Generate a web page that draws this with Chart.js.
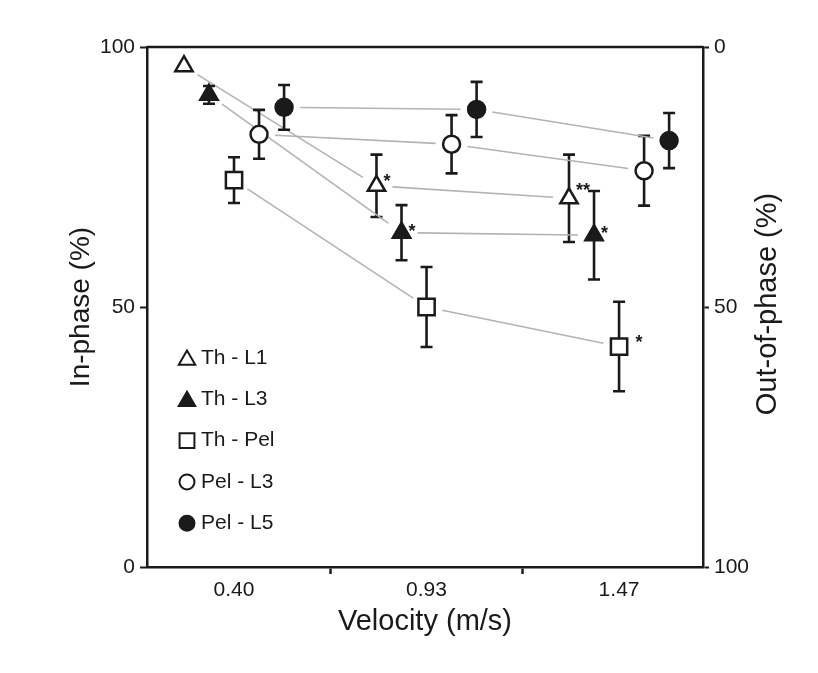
<!DOCTYPE html>
<html>
<head>
<meta charset="utf-8">
<script src="https://cdn.jsdelivr.net/npm/chart.js@4.4.1/dist/chart.umd.min.js"></script>
<style>
  html, body { margin: 0; padding: 0; background: #fff; }
</style>
</head>
<body>
<canvas id="chart" width="818" height="673"></canvas>
<script>
// values (in-phase %, mean and SD)
const velocities = ['0.40', '0.93', '1.47'];
const seriesNames = ['Th - L1', 'Th - L3', 'Th - Pel', 'Pel - L3', 'Pel - L5'];
const thL1 = [96.3, 73.3, 70.9];
const thL1Sd = [0, 6.0, 8.4];
const thL3 = [90.8, 64.3, 63.8];
const thL3Sd = [1.7, 5.3, 8.5];
const thPel = [74.4, 50.0, 42.4];
const thPelSd = [4.4, 7.7, 8.6];
const pelL3 = [83.2, 81.3, 76.2];
const pelL3Sd = [4.7, 5.6, 6.7];
const pelL5 = [88.4, 88.0, 82.0];
const pelL5Sd = [4.3, 5.3, 5.3];
// significance marks: series index, velocity index, label
const stars = [[0, 1, '*'], [1, 1, '*'], [0, 2, '**'], [1, 2, '*'], [2, 2, '*']];

// drawing style
const FONT = '"Liberation Sans", Arial, sans-serif';
const INK = '#1a1a1a';
const offsets = [-0.26, -0.13, 0, 0.13, 0.26];
const markers = [
    { shape: 'triangle', fill: '#fff', r: 10, legendR: 9.5 },
    { shape: 'triangle', fill: INK, r: 10, legendR: 9.5 },
    { shape: 'rect', fill: '#fff', r: 11.5, legendR: 10.5 },
    { shape: 'circle', fill: '#fff', r: 8.5, legendR: 7.5 },
    { shape: 'circle', fill: INK, r: 8.5, legendR: 7.5 }
];

const means = [thL1, thL3, thPel, pelL3, pelL5];
const sds = [thL1Sd, thL3Sd, thPelSd, pelL3Sd, pelL5Sd];

const datasets = means.map((vals, s) => ({
    label: seriesNames[s],
    data: vals.map((v, i) => ({ x: i + offsets[s], y: v })),
    sd: sds[s],
    pointStyle: markers[s].shape,
    pointRadius: markers[s].r,
    pointHoverRadius: markers[s].r,
    pointBackgroundColor: markers[s].fill,
    pointBorderColor: INK,
    pointBorderWidth: 2.5,
    showLine: false
}));

const figurePlugin = {
    id: 'figure',
    beforeDatasetsDraw(chart) {
        const ctx = chart.ctx;
        const y = chart.scales.y;
        ctx.save();
        chart.data.datasets.forEach((ds, s) => {
            const pts = chart.getDatasetMeta(s).data;
            // grey joining lines, stopped short of the markers
            ctx.strokeStyle = '#b3b3b3';
            ctx.lineWidth = 1.6;
            for (let i = 0; i < pts.length - 1; i++) {
                const a = pts[i], b = pts[i + 1];
                const dx = b.x - a.x, dy = b.y - a.y;
                const len = Math.hypot(dx, dy), g = 16;
                ctx.beginPath();
                ctx.moveTo(a.x + dx * g / len, a.y + dy * g / len);
                ctx.lineTo(b.x - dx * g / len, b.y - dy * g / len);
                ctx.stroke();
            }
            // error bars
            ctx.strokeStyle = INK;
            ctx.lineWidth = 2.6;
            pts.forEach((p, i) => {
                const e = ds.sd[i];
                if (!e) return;
                const v = ds.data[i].y;
                const top = y.getPixelForValue(v + e);
                const bot = y.getPixelForValue(v - e);
                ctx.beginPath();
                ctx.moveTo(p.x, top); ctx.lineTo(p.x, bot);
                ctx.moveTo(p.x - 6, top); ctx.lineTo(p.x + 6, top);
                ctx.moveTo(p.x - 6, bot); ctx.lineTo(p.x + 6, bot);
                ctx.stroke();
            });
        });
        ctx.restore();
    },
    afterDatasetsDraw(chart) {
        const ctx = chart.ctx;
        const area = chart.chartArea;
        ctx.save();

        // top frame line
        ctx.strokeStyle = INK;
        ctx.lineWidth = 2.5;
        ctx.beginPath();
        ctx.moveTo(area.left, area.top);
        ctx.lineTo(area.right, area.top);
        ctx.stroke();

        // asterisks
        ctx.fillStyle = INK;
        ctx.font = 'bold 18px ' + FONT;
        ctx.textAlign = 'left';
        ctx.textBaseline = 'alphabetic';
        stars.forEach(([s, i, txt]) => {
            const p = chart.getDatasetMeta(s).data[i];
            const gap = markers[s].shape === 'rect' ? markers[s].r + 5 : markers[s].r * 0.7;
            const lift = txt.length > 1 ? 4 : (s === 1 ? -2 : 1);
            ctx.fillText(txt, p.x + gap, p.y + 2 - lift);
        });

        // legend inside the plot
        ctx.font = '21px ' + FONT;
        ctx.textBaseline = 'middle';
        const lx = area.left + 40, ly0 = area.top + 311;
        seriesNames.forEach((name, s) => {
            const yy = ly0 + s * 41.3;
            ctx.fillStyle = markers[s].fill;
            ctx.strokeStyle = INK;
            ctx.lineWidth = 2;
            Chart.helpers.drawPoint(ctx, {
                pointStyle: markers[s].shape,
                radius: markers[s].legendR,
                rotation: 0,
                borderWidth: 2
            }, lx, yy + (markers[s].shape === 'triangle' ? 2 : 0));
            ctx.fillStyle = INK;
            ctx.fillText(name, lx + 14, yy);
        });

        // right axis title reads bottom to top
        ctx.font = '29px ' + FONT;
        ctx.textAlign = 'center';
        ctx.translate(768, 304);
        ctx.rotate(-Math.PI / 2);
        ctx.fillText('Out-of-phase (%)', 0, 0);
        ctx.restore();
    }
};

new Chart(document.getElementById('chart'), {
    type: 'scatter',
    data: { datasets },
    plugins: [figurePlugin],
    options: {
        responsive: false,
        animation: false,
        layout: { padding: { top: 47, left: 0, right: 0, bottom: 0 } },
        plugins: {
            legend: { display: false },
            tooltip: { enabled: false }
        },
        scales: {
            x: {
                type: 'linear',
                min: -0.452,
                max: 2.436,
                afterBuildTicks: axis => {
                    axis.ticks = [0, 0.5, 1, 1.5, 2].map(v => ({ value: v }));
                },
                afterFit: axis => { axis.height = 106; },
                ticks: {
                    autoSkip: false,
                    maxRotation: 0,
                    padding: 4,
                    color: INK,
                    font: { family: FONT, size: 21 },
                    callback: v => Number.isInteger(v) ? velocities[v] : ''
                },
                grid: {
                    drawOnChartArea: false,
                    tickLength: 7,
                    tickWidth: 2.5,
                    tickColor: c => (c.tick && !Number.isInteger(c.tick.value)) ? INK : 'rgba(0,0,0,0)'
                },
                border: { color: INK, width: 2.5 },
                title: {
                    display: true,
                    text: 'Velocity (m/s)',
                    color: INK,
                    font: { family: FONT, size: 29 },
                    padding: { top: 0, bottom: 34 }
                }
            },
            y: {
                position: 'left',
                min: 0,
                max: 100,
                afterFit: axis => { axis.width = 147; },
                ticks: {
                    stepSize: 50,
                    padding: 5,
                    color: INK,
                    font: { family: FONT, size: 21 }
                },
                grid: {
                    drawOnChartArea: false,
                    tickLength: 7,
                    tickWidth: 2,
                    tickColor: INK
                },
                border: { color: INK, width: 2.5 },
                title: {
                    display: true,
                    text: 'In-phase (%)',
                    color: INK,
                    font: { family: FONT, size: 28 },
                    padding: { top: 64, bottom: 0 }
                }
            },
            y1: {
                position: 'right',
                reverse: true,
                min: 0,
                max: 100,
                afterFit: axis => { axis.width = 115; },
                ticks: {
                    stepSize: 50,
                    padding: 5,
                    color: INK,
                    font: { family: FONT, size: 21 }
                },
                grid: {
                    drawOnChartArea: false,
                    tickLength: 6,
                    tickWidth: 2,
                    tickColor: INK
                },
                border: { color: INK, width: 2.5 }
            }
        }
    }
});
</script>
</body>
</html>
